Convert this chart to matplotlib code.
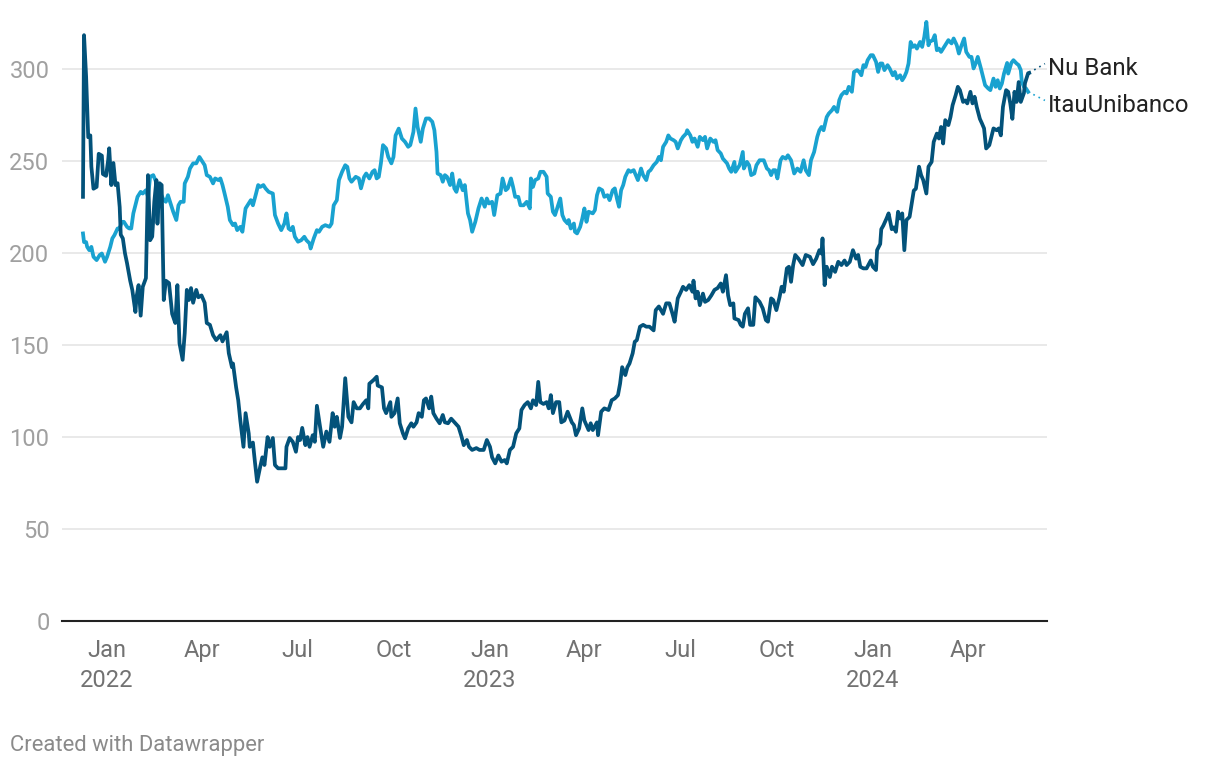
import matplotlib
matplotlib.use("Agg")
import matplotlib.pyplot as plt
import numpy as np

plt.rcParams['font.family'] = ['Roboto', 'DejaVu Sans']

# first trading day (Nu Bank IPO); series are stored as days since this date
start = np.datetime64("2021-12-09")

nu_days = [0, 1, 3, 5, 7, 8, 10, 13, 15, 18, 19, 22, 24, 25, 27, 29, 31, 33, 35, 36,
           38, 40, 42, 45, 47, 50, 51, 53, 55, 57, 60, 62, 64, 66, 68, 70, 71, 73, 75, 77,
           79, 82, 85, 88, 90, 92, 95, 97, 99, 101, 103, 105, 108, 110, 113, 116, 118, 121, 124, 127,
           131, 133, 137, 139, 142, 143, 146, 148, 150, 153, 155, 158, 159, 162, 164, 166, 169, 171, 173, 176,
           178, 181, 183, 186, 193, 194, 197, 200, 203, 205, 207, 209, 212, 214, 216, 219, 221, 223, 226, 229,
           232, 235, 238, 240, 242, 245, 247, 250, 253, 256, 258, 261, 264, 267, 270, 272, 273, 277, 280, 281,
           285, 287, 289, 293, 294, 297, 300, 302, 305, 307, 310, 313, 315, 318, 320, 323, 325, 327, 330, 332,
           334, 337, 340, 343, 345, 348, 351, 355, 358, 361, 363, 366, 368, 371, 375, 378, 382, 385, 388, 390,
           393, 396, 399, 402, 404, 407, 410, 413, 416, 418, 421, 424, 427, 429, 432, 434, 436, 439, 442, 444,
           446, 448, 451, 454, 456, 459, 462, 466, 468, 470, 473, 476, 478, 482, 484, 486, 490, 491, 494, 497,
           501, 504, 507, 510, 512, 514, 517, 519, 521, 524, 526, 528, 531, 534, 537, 540, 544, 546, 549, 553,
           556, 559, 562, 564, 567, 570, 572, 575, 578, 581, 582, 584, 586, 588, 591, 593, 596, 599, 602, 605,
           608, 610, 613, 615, 617, 620, 621, 625, 627, 629, 631, 634, 636, 639, 641, 645, 648, 651, 653, 656,
           658, 661, 664, 666, 668, 671, 673, 675, 677, 679, 682, 686, 689, 693, 696, 699, 702, 704, 705, 707,
           709, 712, 714, 717, 720, 723, 726, 728, 731, 734, 737, 739, 741, 744, 747, 751, 753, 756, 757, 760,
           761, 763, 766, 768, 771, 773, 775, 777, 779, 781, 783, 785, 788, 790, 792, 794, 797, 799, 801, 804,
           806, 809, 811, 814, 816, 818, 820, 822, 825, 827, 829, 832, 834, 836, 839, 841, 843, 846, 848, 850,
           852, 855, 857, 859, 861, 864, 866, 868, 871, 873, 875, 877, 880, 882, 884, 886, 888, 890, 892, 894,
           897, 898, 901, 902]
nu_vals = [230.6, 318.5, 295.8, 263, 264, 247, 235, 236, 254, 253, 243, 242, 250.5, 257, 237, 249, 237, 238, 225, 210,
           208, 200, 194.5, 185, 180, 168, 176, 182.6, 166, 181.7, 186.4, 242.4, 207, 209, 228, 239.7, 216, 238, 237, 174.5,
           185, 183.7, 167, 162, 182.6, 151, 142, 156.5, 180, 174.5, 181, 173, 180, 176, 177, 173, 162, 161, 155.4, 152.7,
           155.4, 152, 157, 145.6, 138, 140, 127, 120, 109, 94.7, 113, 102, 94.7, 97, 86, 75.7, 84, 89, 84.8, 100,
           94.7, 99.5, 84.8, 83, 83, 94.7, 99.5, 97.4, 92, 100, 98.4, 105, 95.6, 100, 94.7, 101, 97.4, 117, 105.6, 94.7,
           103, 97.4, 113, 105.6, 111, 99.5, 105.6, 132, 111, 108, 119, 115.6, 115.6, 118, 120, 115.6, 129, 131, 132.8, 128,
           127, 115.6, 113, 119, 111, 113, 121, 107.5, 102, 99.3, 104.7, 107.5, 105.6, 108, 113, 111, 120, 121, 115.6, 122,
           113, 110, 107.5, 112, 108, 107.5, 110, 107.5, 105.6, 100, 95.6, 98.4, 94.7, 93, 94, 93, 93, 98.4, 94.7, 89,
           85.7, 90, 86.6, 87.5, 85.7, 93, 94.7, 102, 104.7, 114.7, 117.4, 119, 115.6, 120, 117.4, 130, 119, 118, 119, 115.6,
           122.8, 113, 119, 119, 108, 109, 113.8, 108, 106.5, 101, 104.7, 115.6, 109, 103.8, 107.5, 103.8, 108, 101, 113.8, 115.6,
           114.7, 120, 121, 122.8, 129, 138, 133.7, 138, 140, 145.5, 151.8, 152.7, 160, 161, 160, 160, 158, 169, 171, 167,
           172.7, 172.7, 167, 162.7, 175.4, 179, 181.7, 180, 182.6, 179, 185, 175.4, 179, 171.7, 178, 173.5, 174.5, 177, 180, 181,
           183.5, 179, 188, 177, 171.7, 172.7, 164.5, 163.6, 161, 160, 167, 170, 161, 161, 176, 173.5, 170, 163.6, 162.7, 175.4,
           174.5, 169, 176, 181.7, 179, 191.7, 192.6, 184.4, 193.5, 199, 197, 193.5, 199, 198, 194, 197, 201.6, 199.8, 208, 182.6,
           192.6, 187, 192.6, 189.8, 195.3, 193.5, 196, 193.5, 195.3, 201.6, 197, 199, 192.6, 191.7, 191.7, 196, 192.6, 190.8, 201.6, 205,
           213, 215, 218.8, 221.6, 213, 214, 211.6, 222.5, 218.8, 221.6, 201.6, 218, 219.7, 227, 234, 235, 247, 242.4, 239.7, 232.4,
           247, 249.6, 260.5, 265, 262.3, 268.6, 259.6, 272.3, 269.6, 274, 280.4, 286, 290.4, 288.6, 282.2, 283, 281.4, 287.7, 281.4, 285,
           279.5, 273, 270.5, 267.8, 256.9, 258.7, 263.2, 267.8, 266.8, 267.8, 264, 279.5, 288.6, 287.7, 281.4, 273, 287.7, 282.2, 293, 282.2,
           287, 292.4, 297.8, 298]

itau_days = [0, 1, 3, 4, 6, 8, 10, 13, 16, 18, 21, 23, 26, 28, 30, 33, 35, 37, 39, 42,
             44, 46, 48, 50, 52, 55, 57, 60, 62, 64, 67, 69, 72, 74, 77, 79, 81, 84, 86, 89,
             91, 93, 96, 97, 100, 102, 105, 108, 111, 113, 116, 118, 121, 124, 126, 129, 131, 133, 135, 138,
             140, 143, 145, 147, 150, 152, 155, 158, 160, 162, 165, 167, 169, 172, 174, 177, 181, 183, 186, 189,
             192, 194, 196, 198, 200, 202, 205, 208, 211, 213, 216, 217, 220, 223, 225, 228, 231, 235, 237, 239,
             242, 244, 247, 250, 252, 254, 256, 260, 263, 265, 268, 270, 273, 276, 278, 280, 282, 284, 286, 289,
             291, 294, 296, 298, 301, 304, 307, 310, 312, 315, 317, 319, 322, 324, 327, 330, 333, 335, 337, 338,
             341, 343, 345, 347, 350, 352, 354, 356, 359, 362, 364, 367, 369, 371, 374, 377, 380, 383, 385, 387,
             390, 392, 395, 398, 400, 403, 405, 408, 410, 412, 415, 417, 420, 423, 426, 427, 429, 431, 434, 436,
             439, 442, 443, 446, 448, 450, 452, 455, 457, 459, 462, 463, 465, 468, 469, 471, 474, 476, 478, 480,
             482, 486, 488, 490, 492, 495, 497, 500, 502, 505, 507, 509, 511, 513, 515, 517, 520, 522, 525, 527,
             529, 532, 534, 537, 539, 541, 544, 547, 549, 551, 553, 556, 558, 560, 563, 565, 567, 570, 572, 575,
             576, 579, 581, 583, 586, 588, 591, 593, 595, 598, 601, 603, 605, 608, 610, 614, 616, 618, 621, 622,
             624, 626, 629, 630, 633, 635, 637, 640, 642, 645, 647, 649, 652, 654, 656, 658, 660, 662, 665, 667,
             670, 672, 675, 678, 681, 684, 687, 689, 692, 694, 697, 700, 702, 704, 706, 709, 711, 714, 716, 719,
             721, 723, 726, 728, 730, 733, 735, 738, 740, 742, 744, 746, 748, 751, 753, 756, 758, 760, 762, 764,
             767, 769, 772, 774, 776, 779, 781, 783, 785, 787, 789, 791, 793, 795, 798, 800, 802, 804, 806, 807,
             810, 812, 814, 816, 818, 821, 823, 825, 828, 830, 833, 835, 837, 840, 842, 845, 847, 849, 851, 853,
             856, 858, 860, 863, 865, 868, 870, 872, 874, 876, 878, 881, 882, 885, 887, 890, 892, 894, 895, 897,
             899, 901]
itau_vals = [210.7, 206, 206, 203.4, 201.6, 203.4, 198, 196.2, 199, 199.8, 195.3, 198, 203.4, 208, 209.8, 213.4, 213.4, 217, 217, 214.3,
             213.4, 213.4, 221.6, 226, 230.6, 233.3, 232.4, 234.2, 230.6, 241.5, 242.4, 239.7, 234.2, 232.4, 228.8, 227.9, 231.5, 226, 222.5, 218,
             226, 227.9, 227.9, 237.9, 241.5, 246, 248.8, 248.8, 252.3, 250.5, 247.8, 242.4, 241.5, 237.9, 240.6, 239.7, 240.6, 237, 232.4, 225.2,
             218, 215.2, 216.1, 212.5, 214.3, 211.6, 224.3, 227, 228.8, 226, 232.4, 237, 236, 237, 235.2, 233.3, 232.4, 220.7, 216.1, 212.5,
             216.1, 221.6, 213.4, 212.5, 214.3, 208.9, 206.2, 207, 208.9, 207, 205.3, 202.5, 208, 212.5, 211.6, 214.3, 215.2, 214.3, 216.1, 226,
             228.8, 239.7, 244.2, 247.8, 246.9, 240.6, 238.8, 241.5, 240.6, 235.2, 241.5, 243.3, 240.6, 244.2, 245.1, 240.6, 241.5, 248.8, 258.7, 256.9,
             252.3, 248.8, 252.3, 264, 267.7, 262.3, 260.5, 257.8, 258.7, 265.9, 278.6, 268.6, 260.5, 267.7, 273.2, 273.2, 271.4, 266.8, 255, 243.3,
             242.4, 238.8, 242.4, 241.5, 237, 243.3, 235.2, 233.3, 239.7, 234.2, 237, 221.6, 218, 211.6, 217, 224.3, 229.7, 225.2, 229.7, 227,
             227.9, 220.7, 231.5, 232.4, 240.6, 234.2, 235.2, 240.6, 236, 230.6, 230.6, 226, 226, 227.9, 224.3, 240.6, 236, 239.7, 240.6, 244.2,
             244.2, 241.5, 232.4, 230.6, 222.5, 220.7, 224.3, 229.7, 220.7, 218, 216.1, 218, 213.4, 216.1, 211.6, 210.7, 214.3, 218.8, 224.3, 217,
             222.5, 221.6, 223.4, 231.5, 235.2, 234.2, 230.6, 231.5, 228.8, 234.2, 235.2, 229.7, 225.2, 234.2, 237, 241.5, 245.1, 244.2, 245.1, 242.4,
             239.7, 246, 242.4, 239.7, 244.2, 245.1, 247.8, 249.6, 252.3, 250.5, 257.8, 260.5, 264, 262.3, 261.4, 260.5, 256.9, 261.4, 263.2, 265,
             266.8, 264, 260.5, 262.3, 257.8, 263.2, 261.4, 263.2, 256.9, 262.3, 260.5, 261.4, 256, 254.2, 251.4, 248.8, 246, 244.2, 249.6, 244.2,
             246, 247.8, 255, 246, 249.6, 247.8, 242.4, 243.3, 247.8, 250.5, 250.5, 250.5, 246, 245.1, 242.4, 245.1, 245.1, 240.6, 250.5, 252.3,
             251.4, 253.2, 250.5, 243.3, 246, 244.2, 250.5, 245.1, 242.4, 250.5, 255, 263.2, 266.8, 268.6, 266.8, 274, 275.9, 277.7, 279.5, 276.8,
             283.2, 285.9, 287.7, 286.8, 290.4, 287.7, 298.5, 299.5, 298.5, 296.7, 302.2, 301.2, 304.9, 307.6, 307.6, 304, 298.5, 303.1, 303.1, 299.5,
             302.2, 300.4, 296.7, 298.5, 294.9, 296.7, 294, 295.8, 298.5, 303.1, 314.8, 312.1, 313, 311.2, 314.8, 312.1, 317.5, 325.7, 313, 314.8,
             315.8, 318.5, 310.3, 311.2, 309.4, 312.1, 314, 315.8, 314, 316.7, 313, 308.5, 312.1, 316.7, 309.4, 306.7, 306.7, 300.4, 303.1, 306.7,
             300.4, 295.8, 291.3, 289.5, 288.6, 294.9, 290.4, 294, 289.5, 292.2, 297.6, 303.4, 297.6, 303.4, 304.9, 303.1, 302.2, 299.5, 293, 290.4,
             289.5, 287.7]

tick_dates = ["2022-01-01", "2022-04-01", "2022-07-01", "2022-10-01", "2023-01-01",
              "2023-04-01", "2023-07-01", "2023-10-01", "2024-01-01", "2024-04-01"]
tick_labels = ["Jan\n2022", "Apr", "Jul", "Oct", "Jan\n2023",
               "Apr", "Jul", "Oct", "Jan\n2024", "Apr"]
y_ticks = [0, 50, 100, 150, 200, 250, 300]

NU_COLOR = "#03527a"
ITAU_COLOR = "#19a2d0"

nu_dates = start + np.array(nu_days).astype("timedelta64[D]")
itau_dates = start + np.array(itau_days).astype("timedelta64[D]")

fig = plt.figure(figsize=(12.2, 7.68), dpi=100)
ax = fig.add_axes([62 / 1220, 147 / 768, 985 / 1220, 607 / 768])

# light line first so the dark one sits on top
ax.plot(itau_dates, itau_vals, color=ITAU_COLOR, lw=2.7, solid_joinstyle="round", zorder=3)
ax.plot(nu_dates, nu_vals, color=NU_COLOR, lw=2.7, solid_joinstyle="round", zorder=4)

# dotted leaders to the direct labels
lead_end = start + np.timedelta64(917, "D")
ax.plot([nu_dates[-1], lead_end], [nu_vals[-1], 303], color=NU_COLOR, lw=1.2,
        ls=(0, (1, 2.5)), clip_on=False, zorder=4)
ax.plot([itau_dates[-1], lead_end], [itau_vals[-1], 283], color=ITAU_COLOR, lw=1.2,
        ls=(0, (1, 2.5)), clip_on=False, zorder=3)
label_x = start + np.timedelta64(920, "D")
ax.text(label_x, 300.5, "Nu Bank", fontsize=17.3, color="#222222", va="center", ha="left")
ax.text(label_x, 280, "ItauUnibanco", fontsize=17.3, color="#222222", va="center", ha="left")

ax.set_xlim(start - np.timedelta64(20, "D"), start + np.timedelta64(919, "D"))
ax.set_ylim(0, 330)

ax.set_yticks(y_ticks)
ax.set_xticks(np.array(tick_dates, dtype="datetime64[D]"))
ax.set_xticklabels(tick_labels, linespacing=1.41)
ax.tick_params(axis="y", length=0, pad=9, labelsize=17, labelcolor="#a0a0a0")
ax.tick_params(axis="x", length=0, pad=13, labelsize=17, labelcolor="#727272")

ax.grid(axis="y", color="#e3e3e3", lw=1.1)
ax.set_axisbelow(True)
for side in ["top", "right", "left"]:
    ax.spines[side].set_visible(False)
ax.spines["bottom"].set_color("#222222")
ax.spines["bottom"].set_linewidth(1.5)
ax.spines["bottom"].set_zorder(5)

fig.text(10 / 1220, 1 - 745 / 768, "Created with Datawrapper", fontsize=15.8,
         color="#8a8a8a", va="center", ha="left")

fig.savefig("out.png", dpi=100)
plt.close(fig)
